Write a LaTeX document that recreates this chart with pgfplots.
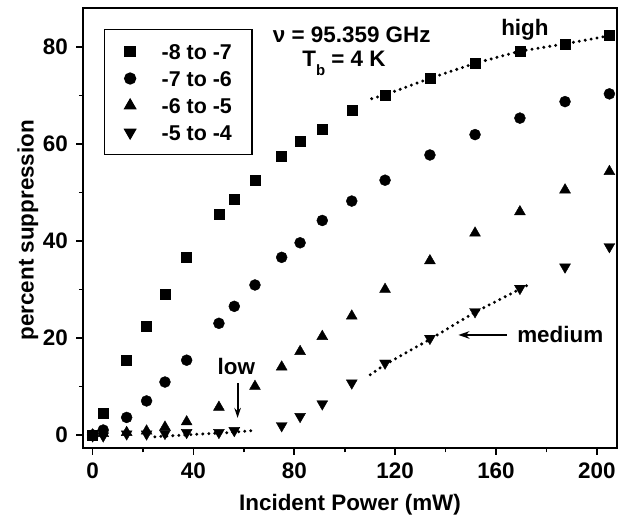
\documentclass[border=0pt]{standalone}
\usepackage{fontspec}
\setmainfont{Liberation Sans}
\usepackage{pgfplots}
\pgfplotsset{compat=1.18}
\usetikzlibrary{arrows.meta}
\begin{document}
\begin{tikzpicture}[x=1bp,y=1bp]
\begin{axis}[
  at={(0,0)}, anchor=south west,
  scale only axis, width=533.4bp, height=440bp,
  xmin=-3.7, xmax=207.9, ymin=-2.7, ymax=88,
  axis line style={line width=2bp},
  xtick={0,40,...,200}, minor xtick={20,60,...,180},
  ytick={0,20,...,80}, minor ytick={10,30,...,70},
  tick align=outside, xtick pos=left, ytick pos=left,
  major tick length=7bp, minor tick length=4.5bp,
  tick style={line width=1.6bp, black},
  ticklabel style={font=\fontsize{22.5}{22.5}\selectfont\bfseries},
  xticklabel style={yshift=-4bp},
  yticklabel style={xshift=-5bp},
  /pgf/number format/assume math mode=true,
  xlabel={Incident Power (mW)}, ylabel={percent suppression},
  label style={font=\fontsize{22.5}{22.5}\selectfont\bfseries},
  xlabel style={at={(axis description cs:0.5,-0.13)}, anchor=center},
  ylabel style={at={(axis description cs:-0.104,0.495)}, anchor=center},
  legend cell align=left,
  legend style={at={(axis description cs:0.0388,0.952)}, anchor=north west,
    draw=black, line width=1.3bp, font=\fontsize{21.5}{21.5}\selectfont\bfseries,
    inner xsep=20bp, inner ysep=14bp, row sep=11.5bp,
    nodes={inner sep=0pt, text height=15.5bp, text depth=0bp},
    /tikz/every odd column/.append style={column sep=26bp}},
]
\addplot[only marks, mark=square*, mark size=5bp] coordinates {
(0,0) (4.2,4.5) (13.5,15.5) (21.4,22.5) (28.7,29.0) (37.3,36.6) (50.1,45.4)
(56.2,48.6) (64.4,52.4) (75.0,57.4) (82.3,60.5) (91.1,63.1) (102.8,67.0)
(116.0,70.1) (133.8,73.5) (151.7,76.6) (169.5,79.1) (187.4,80.6) (205.0,82.3)};
\addlegendentry{-8 to -7}
\addplot[only marks, mark=*, mark size=5.5bp] coordinates {
(0,0) (4.2,1.0) (13.5,3.6) (21.4,7.0) (28.7,10.9) (37.3,15.4) (50.1,23.0)
(56.2,26.5) (64.4,30.9) (75.0,36.6) (82.3,39.6) (91.1,44.2) (102.8,48.2)
(116.0,52.5) (133.8,57.7) (151.7,61.9) (169.5,65.3) (187.4,68.7) (205.0,70.3)};
\addlegendentry{-7 to -6}
\addplot[only marks, mark=triangle*, mark size=6.3bp] coordinates {
(0,0) (4.2,0.3) (13.5,0.5) (21.4,0.8) (28.7,1.6) (37.3,2.7) (50.1,5.7)
(64.4,10.0) (75.0,14.0) (82.3,17.2) (91.1,20.3) (102.8,24.5)
(116.0,30.0) (133.8,35.9) (151.7,41.6) (169.5,46.0) (187.4,50.5) (205.0,54.3)};
\addlegendentry{-6 to -5}
\addplot[only marks, mark=triangle*, mark options={rotate=180}, mark size=6.3bp] coordinates {
(0,-0.2) (4.2,-0.2) (13.5,0.2) (21.4,0.2) (28.7,0.3) (37.3,0.5) (50.1,0.5)
(56.2,0.9) (75.0,1.9) (82.3,3.8) (91.1,6.4) (102.8,10.7)
(116.0,14.8) (133.8,19.9) (151.7,25.4) (169.5,30.2) (187.4,34.6) (205.0,38.8)};
\addlegendentry{-5 to -4}
% fitted guide lines
\addplot[line width=3.3bp, dash pattern=on 0pt off 6bp, line cap=round, forget plot] coordinates {
(110.7,69.3) (116,70.1) (133.8,73.5) (151.7,76.6) (169.5,79.1) (187.4,80.6) (205,82.3)};
\addplot[line width=3.3bp, dash pattern=on 0pt off 6bp, line cap=round, forget plot] coordinates {
(24.7,-0.4) (40,0.1) (55,0.5) (63.7,0.9)};
\addplot[line width=3.3bp, dash pattern=on 0pt off 6bp, line cap=round, forget plot] coordinates {
(110.1,12.4) (116,14.5) (133.8,19.7) (151.7,25.3) (174.2,31.3)};
% annotations
\node[font=\fontsize{22.5}{22.5}\selectfont\bfseries] at (axis cs:102.8,82.5) {ν = 95.359 GHz};
\node[font=\fontsize{22.5}{22.5}\selectfont\bfseries] at (axis cs:99.7,76.6) {T\raisebox{-0.7ex}{\fontsize{15}{15}\selectfont b} = 4 K};
\node[font=\fontsize{22.5}{22.5}\selectfont\bfseries] at (axis cs:171.5,83.6) {high};
\node[font=\fontsize{22.5}{22.5}\selectfont\bfseries] at (axis cs:57,14.2) {low};
\node[font=\fontsize{22.5}{22.5}\selectfont\bfseries] at (axis cs:185.5,20.6) {medium};
\draw[line width=2bp, -{Stealth[length=10bp,width=6.5bp]}] (axis cs:57.5,10.6) -- (axis cs:57.5,3.5);
\draw[line width=2.4bp, -{Stealth[length=11bp,width=7.5bp]}] (axis cs:164.3,20.6) -- (axis cs:145.1,20.6);
\end{axis}
\pgfresetboundingbox
\path[use as bounding box] (-83.3,-77) rectangle (535.7,448);
\end{tikzpicture}
\end{document}
